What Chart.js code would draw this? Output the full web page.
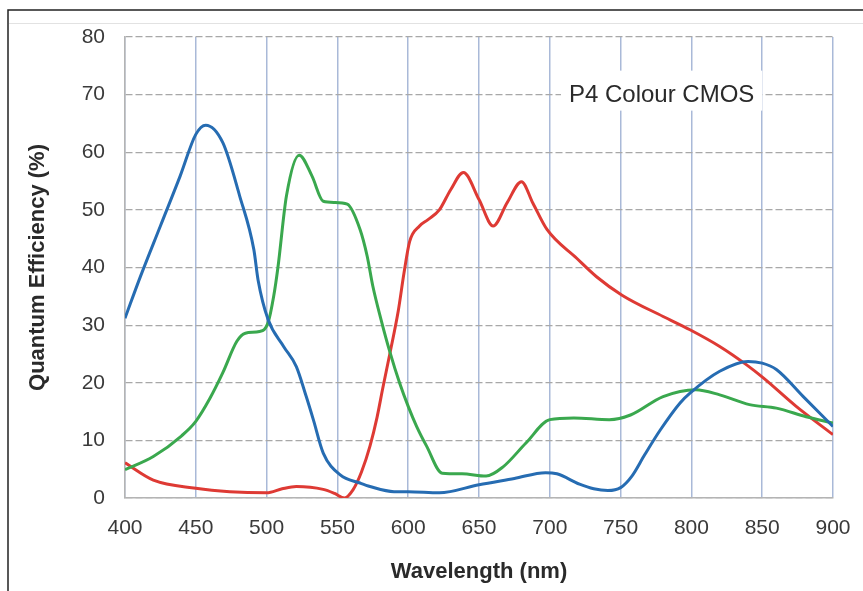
<!DOCTYPE html>
<html>
<head>
<meta charset="utf-8">
<script src="https://cdn.jsdelivr.net/npm/chart.js@4"></script>
<style>
  html, body { margin: 0; padding: 0; background: #fff; }
  #wrap { position: absolute; left: 0; top: 0; width: 863px; height: 591px; }
</style>
</head>
<body>
<div id="wrap"><canvas id="qeChart"></canvas></div>
<script>
// Axis ticks
var wavelengthTicks = [400, 450, 500, 550, 600, 650, 700, 750, 800, 850, 900];
var efficiencyTicks = [0, 10, 20, 30, 40, 50, 60, 70, 80];

// Blue channel
var blueNm = [400, 411, 425, 439, 450, 457, 469, 481, 491, 494, 501, 512, 521, 528, 533, 540, 552, 566, 573, 590, 600, 622, 650, 675, 697, 705, 721, 731, 741, 750, 758, 767, 778, 792, 799, 820, 840, 850, 860, 879, 900];
var blueQE = [31.2, 38.5, 47.2, 55.9, 63.1, 64.7, 61.7, 52.4, 43.1, 37.8, 31, 26.3, 22.8, 17.6, 13.6, 7.8, 4, 2.6, 2, 1.1, 1.1, 0.9, 2.3, 3.4, 4.4, 4.2, 2.4, 1.6, 1.3, 1.8, 3.8, 7.5, 11.8, 16.5, 18.2, 22, 23.7, 23.4, 22.3, 17.6, 12.4];

// Green channel
var greenNm = [400, 420, 440, 450, 460, 469, 479, 485, 495, 501, 505, 508, 514, 523, 532, 540, 548, 557, 566, 571, 575, 581, 587, 594, 600, 606, 613, 624, 638, 655, 667, 683, 700, 717, 742, 757, 780, 803, 820, 841, 860, 881, 900];
var greenQE = [4.9, 7.2, 10.8, 13.3, 17.3, 21.7, 27.2, 28.6, 28.9, 30.4, 35, 40, 52.4, 59.5, 55.9, 51.5, 51.3, 51, 46.6, 42, 36.8, 30.8, 25.4, 19.9, 15.9, 12.4, 9, 4.3, 4.2, 3.8, 5.4, 9.5, 13.6, 13.9, 13.6, 14.4, 17.6, 18.8, 17.9, 16.2, 15.6, 14.1, 13];

// Red channel
var redNm = [400, 420, 450, 474, 500, 511, 521, 540, 548, 555, 561, 567, 573, 578, 582, 587, 593, 597, 601, 608, 614, 622, 630, 639, 650, 660, 670, 680, 688, 698, 719, 733, 751, 780, 799, 820, 839, 851, 874, 900];
var redQE = [6.1, 3.1, 1.7, 1.1, 0.9, 1.6, 2, 1.5, 0.8, 0, 1.4, 4.5, 9, 14, 19, 25, 32.5, 39, 44.5, 47.2, 48.3, 50, 53.5, 56.5, 51.8, 47.2, 51.3, 54.9, 51.2, 46.6, 41.6, 38.4, 35.2, 31.5, 29.2, 26.3, 23.1, 20.8, 15.9, 11];

var sensorLabel = "P4 Colour CMOS";

function toPoints(xs, ys) {
  return xs.map(function (x, i) { return { x: x, y: ys[i] }; });
}

function makeSeries(name, xs, ys, color) {
  return {
    label: name,
    data: toPoints(xs, ys),
    borderColor: color,
    borderWidth: 3,
    pointRadius: 0,
    fill: false,
    cubicInterpolationMode: "monotone"
  };
}

// page frame lines and white background
var framePlugin = {
  id: "frame",
  beforeDraw: function (chart) {
    var c = chart.ctx;
    c.save();
    c.fillStyle = "#fff";
    c.fillRect(0, 0, chart.width, chart.height);
    c.strokeStyle = "#e2e2e2";
    c.lineWidth = 1;
    c.beginPath();
    c.moveTo(9, 23.5);
    c.lineTo(chart.width, 23.5);
    c.stroke();
    c.strokeStyle = "#222";
    c.lineWidth = 1.5;
    c.beginPath();
    c.moveTo(8, chart.height);
    c.lineTo(8, 10);
    c.lineTo(chart.width, 10);
    c.stroke();
    c.restore();
  }
};

// sensor name box inside the plot
var labelPlugin = {
  id: "sensorLabel",
  afterDatasetsDraw: function (chart) {
    var c = chart.ctx;
    var xs = chart.scales.x, ys = chart.scales.y;
    var cx = xs.getPixelForValue(779);
    var cy = ys.getPixelForValue(70);
    c.save();
    c.font = "24px 'Liberation Sans', Arial, sans-serif";
    var w = c.measureText(sensorLabel).width;
    c.fillStyle = "#fff";
    c.fillRect(cx - w / 2 - 8, cy - 24, w + 16, 40);
    c.fillStyle = "#2a2a2a";
    c.textAlign = "center";
    c.textBaseline = "middle";
    c.fillText(sensorLabel, cx, cy + 1);
    c.restore();
  }
};

var tickFont = { family: "'Liberation Sans', Arial, sans-serif", size: 21 };
var titleFont = { family: "'Liberation Sans', Arial, sans-serif", size: 22, weight: "bold" };

var ctx = document.getElementById("qeChart").getContext("2d");
var myChart = new Chart(ctx, {
  type: "line",
  data: {
    datasets: [
      makeSeries("Blue", blueNm, blueQE, "rgb(38,108,178)"),
      makeSeries("Green", greenNm, greenQE, "rgb(58,168,78)"),
      makeSeries("Red", redNm, redQE, "rgb(222,58,52)")
    ]
  },
  options: {
    responsive: true,
    maintainAspectRatio: false,
    animation: false,
    layout: { padding: { left: 0, top: 37, right: 30, bottom: 0 } },
    plugins: {
      legend: { display: false },
      tooltip: { enabled: false }
    },
    scales: {
      x: {
        type: "linear",
        min: 400,
        max: 900,
        afterBuildTicks: function (axis) {
          axis.ticks = wavelengthTicks.map(function (v) { return { value: v }; });
        },
        afterFit: function (axis) {
          axis.height = 93;
          axis.paddingLeft = 0;
          axis.paddingRight = 0;
        },
        ticks: { font: tickFont, color: "#3a3a3a", padding: 18, maxRotation: 0 },
        grid: { color: "#a9b9d8", lineWidth: 1.5, drawTicks: false },
        border: { display: true, color: "#b4b4b4", width: 1.5 },
        title: { display: true, text: "Wavelength (nm)", font: titleFont, color: "#2a2a2a", padding: { top: 0, bottom: 6 } }
      },
      y: {
        min: 0,
        max: 80,
        afterBuildTicks: function (axis) {
          axis.ticks = efficiencyTicks.map(function (v) { return { value: v }; });
        },
        afterFit: function (axis) { axis.width = 125; },
        ticks: { font: tickFont, color: "#3a3a3a", padding: 20 },
        grid: { color: "#a8a8a8", lineWidth: 1.2, drawTicks: false },
        border: { display: true, color: "#b4b4b4", width: 1.5, dash: [7, 3] },
        title: { display: true, text: "Quantum Efficiency (%)", font: titleFont, color: "#2a2a2a", padding: { top: 25, bottom: 0 } }
      }
    }
  },
  plugins: [framePlugin, labelPlugin]
});
</script>
</body>
</html>
